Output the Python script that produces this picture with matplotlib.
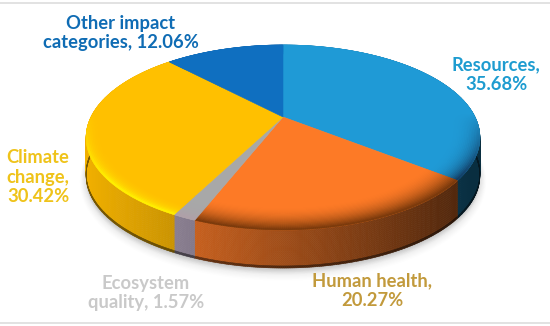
import matplotlib
matplotlib.use('Agg')
import matplotlib.pyplot as plt
import numpy as np
from matplotlib.collections import PolyCollection
from matplotlib.colors import to_rgb

plt.rcParams['font.family'] = ['Lato', 'Open Sans', 'DejaVu Sans']

categories = ['Resources', 'Human health', 'Ecosystem quality', 'Climate change', 'Other impact categories']
shares = [35.68, 20.27, 1.57, 30.42, 12.06]
top_colors = ['#1F9AD6', '#FD7A26', '#A8A8A8', '#FFC000', '#0F6FC0']
rim_colors = ['#123A60', '#7A3A0C', '#B0A0A8', '#FFF000', '#0F6FC0']
side_colors = ['#1F9AD6', '#FD7A26', '#A89AB0', '#F7B400', '#0F6FC0']
bevel_power = [3, 2, 3, 6, 3]

label_text = ['Resources,\n35.68%', 'Human health,\n20.27%', 'Ecosystem\nquality, 1.57%',
              'Climate\nchange,\n30.42%', 'Other impact\ncategories, 12.06%']
label_colors = ['#1E9CD0', '#C29A3C', '#C9C9C9', '#EFC31A', '#0F6CB4']
label_pos = [(496, 75), (372, 291), (146, 293), (38, 177), (121, 33)]

CX, CY = 283, 117
RX, RY = 192, 88
K = 0.2216
DEPTH = 38


def project(theta, r=1.0):
    # theta is clockwise from 12 o'clock, far side is foreshortened
    px = r * np.sin(theta)
    py = r * np.cos(theta)
    w = 1 + K * py
    return CX + RX * px / w, CY - RY * py / w


def quad_strip(theta, r0, r1, off0=0, off1=0):
    x0, y0 = project(theta, r0)
    x1, y1 = project(theta, r1)
    quads = []
    for i in range(len(theta) - 1):
        quads.append([(x0[i], y0[i] + off0), (x0[i + 1], y0[i + 1] + off0),
                      (x1[i + 1], y1[i + 1] + off1), (x1[i], y1[i] + off1)])
    return quads, x0


def add_quads(ax, quads, colors, z):
    ax.add_collection(PolyCollection(quads, facecolors=colors, edgecolors=colors, linewidths=0.4, zorder=z))


fig = plt.figure(figsize=(5.5, 3.26), dpi=100)
ax = fig.add_axes([0, 0, 1, 1])
ax.set_xlim(0, 550)
ax.set_ylim(326, 0)
ax.axis('off')

# frame lines of the picture
ax.axhline(3, color='#DDDDDD', lw=1.2)
ax.axhline(322.5, color='#DDDDDD', lw=1.2)

# soft shadow under the disc
circle = np.linspace(0, 2 * np.pi, 361)
sx, sy = project(circle)
for grow, alpha in zip(np.linspace(9, 1, 9), np.linspace(0.015, 0.04, 9)):
    ax.fill(sx, sy + DEPTH + grow * 0.7, color='#808080', alpha=alpha, lw=grow, zorder=1)

edges = np.radians(np.concatenate([[0], np.cumsum(shares)]) * 3.6)

for i in range(len(shares)):
    theta = np.linspace(edges[i], edges[i + 1], max(int(shares[i] * 8), 6))
    top = np.array(to_rgb(top_colors[i]))
    rim = np.array(to_rgb(rim_colors[i]))
    side = np.array(to_rgb(side_colors[i]))

    # side wall, darker to the right
    levels = np.linspace(0, 1, 19)
    for a, b in zip(levels[:-1], levels[1:]):
        quads, xs = quad_strip(theta, 1.0, 1.0, a * DEPTH, b * DEPTH)
        mid = (xs[:-1] + xs[1:]) / 2
        f = np.clip(0.95 - 0.00175 * (mid - 100), 0.3, 1)
        f = f * (0.5 if b > 0.96 else 1)
        add_quads(ax, quads, [tuple(side * v) for v in f], 2)

    # flat top
    x, y = project(theta)
    ax.fill(np.r_[CX, x], np.r_[CY, y], color=top_colors[i], lw=0.4, zorder=3)

    # bevel along the front of the rim
    rings = np.linspace(0.84, 1.0, 21)
    for a, b in zip(rings[:-1], rings[1:]):
        quads, _ = quad_strip(theta, a, b)
        mid = (theta[:-1] + theta[1:]) / 2
        front = np.clip(0.05 - 1.5 * np.cos(mid), 0, 1)
        w = ((b - 0.84) / 0.16) ** bevel_power[i] * front
        add_quads(ax, quads, [tuple(top * (1 - v) + rim * v) for v in w], 4)

for text, color, pos in zip(label_text, label_colors, label_pos):
    ax.text(pos[0], pos[1], text, color=color, ha='center', va='center', fontsize=13.2,
            fontweight='bold', linespacing=1.2, zorder=6)

fig.savefig('out.png', dpi=100)
plt.close(fig)
